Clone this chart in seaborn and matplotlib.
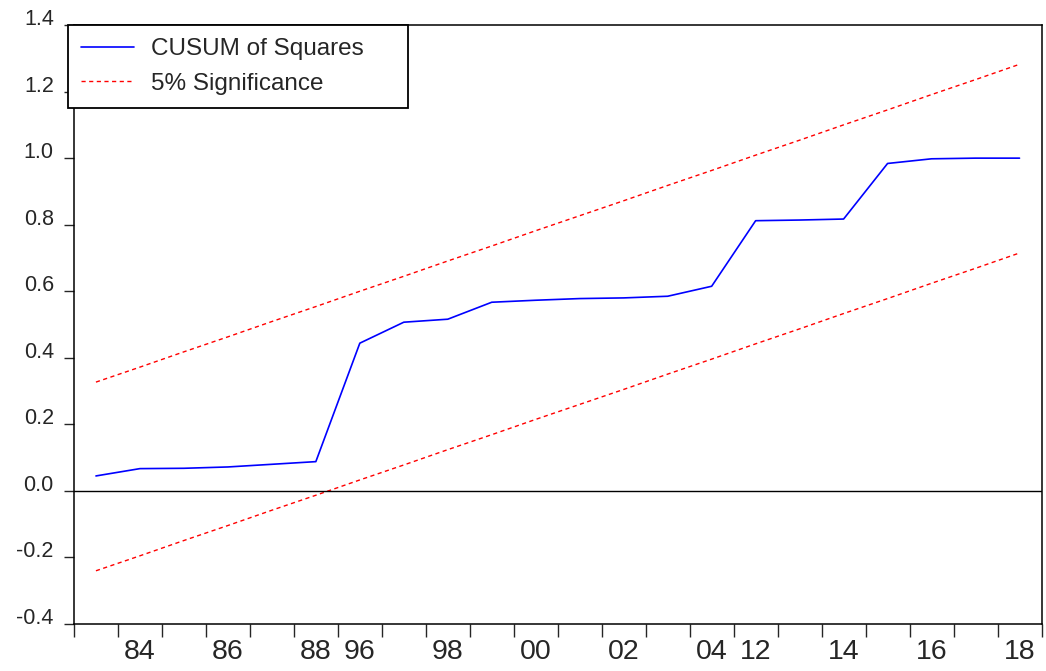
import pandas as pd
import seaborn as sns
import matplotlib.pyplot as plt
from matplotlib.lines import Line2D

years = ['83', '84', '85', '86', '87', '88', '96', '97', '98', '99', '00',
         '01', '02', '03', '04', '12', '13', '14', '15', '16', '17', '18']
shown_labels = ['84', '86', '88', '96', '98', '00', '02', '04', '12', '14', '16', '18']

cusum_sq = [0.045, 0.067, 0.068, 0.072, 0.080, 0.088, 0.444, 0.507, 0.516, 0.567, 0.573,
            0.578, 0.580, 0.585, 0.615, 0.812, 0.814, 0.817, 0.984, 0.998, 1.000, 1.000]
upper = [0.327, 0.372, 0.418, 0.463, 0.509, 0.554, 0.600, 0.645, 0.691, 0.736, 0.782,
         0.827, 0.872, 0.918, 0.963, 1.009, 1.054, 1.100, 1.145, 1.191, 1.236, 1.282]
lower = [-0.240, -0.195, -0.149, -0.104, -0.058, -0.013, 0.033, 0.078, 0.124, 0.169, 0.215,
         0.260, 0.305, 0.351, 0.396, 0.442, 0.487, 0.533, 0.578, 0.624, 0.669, 0.715]
ytick_vals = [-0.4, -0.2, 0.0, 0.2, 0.4, 0.6, 0.8, 1.0, 1.2, 1.4]

df = pd.DataFrame({'obs': range(len(years)), 'year': years,
                   'cusum': cusum_sq, 'upper': upper, 'lower': lower})

sns.set_style('ticks')
plt.rcParams['font.family'] = ['Liberation Sans', 'DejaVu Sans']

fig = plt.figure(figsize=(10.46, 6.71), dpi=100)
ax = fig.add_axes([0.0707, 0.070, 0.925, 0.8927])

dash = (0, (3, 2.5))
sns.lineplot(data=df, x='obs', y='cusum', color='#0000ff', lw=1.2, ax=ax)
sns.lineplot(data=df, x='obs', y='upper', color='#ff0000', lw=1.0, ax=ax, linestyle=dash)
sns.lineplot(data=df, x='obs', y='lower', color='#ff0000', lw=1.0, ax=ax, linestyle=dash)
ax.axhline(0, color='black', lw=1.0)

ax.set_xlim(-0.5, len(years) - 0.5)
ax.set_ylim(-0.4, 1.4)
ax.set_yticks(ytick_vals)
ax.set_yticklabels([f'{v:.1f}' for v in ytick_vals], va='baseline')

# ticks mark the boundaries between observations, labels sit mid-interval
ax.set_xticks([i - 0.5 for i in range(len(years) + 1)])
ax.set_xticklabels([])
ax.set_xticks([years.index(y) for y in shown_labels], minor=True)
ax.set_xticklabels(shown_labels, minor=True,
                   family=['Liberation Sans Narrow', 'Liberation Sans'], fontsize=20.5)
ax.tick_params(axis='x', which='major', length=9, width=1, direction='out')
ax.tick_params(axis='x', which='minor', length=0, pad=11)
ax.tick_params(axis='y', length=7.5, width=1, direction='out', labelsize=15.5, pad=7)
ax.set_xlabel('')
ax.set_ylabel('')

for s in ax.spines.values():
    s.set_color('black')
    s.set_linewidth(1.1)

handles = [Line2D([], [], color='#0000ff', lw=1.2),
           Line2D([], [], color='#ff0000', lw=1.0, linestyle=dash)]
leg = ax.legend(handles, ['CUSUM of Squares', '5% Significance'],
                loc='upper left', bbox_to_anchor=(-0.0062, 0, 0.3515, 1.0),
                mode='expand', fontsize=17.5,
                frameon=True, fancybox=False, framealpha=1, edgecolor='black',
                handlelength=2.15, handletextpad=0.72, borderpad=0.55,
                labelspacing=0.5, borderaxespad=0)
leg.get_frame().set_linewidth(1.3)

fig.savefig('out.png', dpi=100)
